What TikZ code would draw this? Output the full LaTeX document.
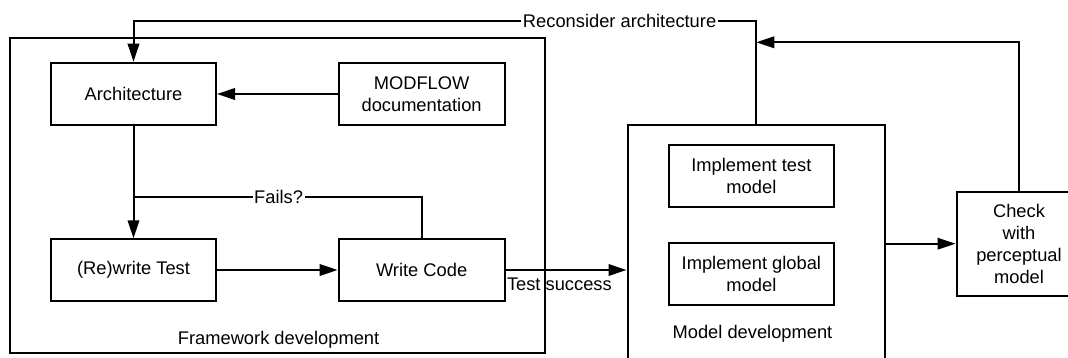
\documentclass[tikz,border=0pt]{standalone}
\usepackage{fontspec}
\setmainfont{Liberation Sans}
\usetikzlibrary{arrows.meta}
\begin{document}
\begin{tikzpicture}[x=1pt,y=-1pt,line width=2pt,
  txt/.style={font=\fontsize{18.3}{22}\selectfont},
  box/.style={draw,txt,align=center,inner sep=0pt},
  lbl/.style={txt,fill=white,inner sep=1.5pt},
  arr/.style={-{Triangle[length=18pt,width=11.5pt]}}]
\useasboundingbox (0,0) rectangle (1068,358);
\clip (0,0) rectangle (1068,358);

% framework development group
\node[box,minimum width=535.8pt,minimum height=315.6pt] (fw) at (277.5,195.5) {};
\node[txt] (fwlabel) at (278.6,339.3) {Framework development};
\node[box,minimum width=165pt,minimum height=62.6pt] (arch) at (133.5,94) {Architecture};
\node[box,minimum width=166pt,minimum height=62.6pt] (mf) at (421.6,94) {MODFLOW\\documentation};
\node[box,minimum width=165pt,minimum height=61.4pt] (rw) at (133.5,270) {(Re)write Test};
\node[box,minimum width=166pt,minimum height=61.4pt] (wc) at (421.6,270) {Write Code};

% model development group
\node[box,minimum width=257.5pt,minimum height=275pt] (md) at (756.25,262.5) {};
\node[txt] (mdlabel) at (752.5,333.3) {Model development};
\node[box,minimum width=165.2pt,minimum height=62pt] (it) at (751.4,176.3) {Implement test\\model};
\node[box,minimum width=165.2pt,minimum height=61.7pt] (ig) at (751.4,274.2) {Implement global\\model};

% perceptual check
\node[box,minimum width=125pt,minimum height=104pt] (ck) at (1019,243.7) {Check\\with\\perceptual\\model};

% routing points
\coordinate (top) at (0,20.7);
\coordinate (back) at (0,42.3);
\coordinate (fail) at (0,197.3);

% connectors
\draw[arr] (mf.west) -- (arch.east);
\draw[arr] (arch.south) -- (rw.north);
\draw (wc.north) -- (wc.north |- fail) -- (arch.south |- fail);
\node[lbl] (faillabel) at (278.6,197.3) {Fails?};
\draw[arr] (rw.east) -- (wc.west);
\draw[arr] (wc.east) -- (md.west |- wc.east);
\node[txt,anchor=west,inner sep=0pt] (oklabel) at (506,284.5) {Test success};
\draw[arr] (md.east |- ck.west) -- (ck.west);
\draw[arr] (ck.north) -- (ck.north |- back) -- (md.north |- back);
\draw[arr] (md.north) -- (md.north |- top) -- (arch.north |- top) -- (arch.north);
\node[lbl] (relabel) at (619.6,20.7) {Reconsider architecture};
\end{tikzpicture}
\end{document}
